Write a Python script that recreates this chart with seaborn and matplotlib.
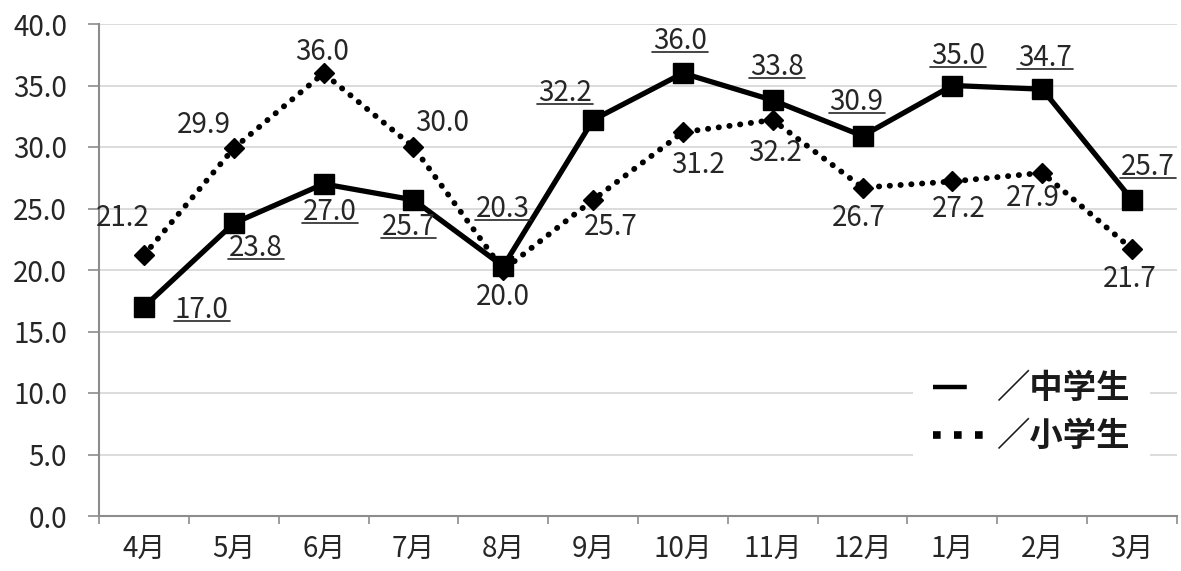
import numpy as np
import pandas as pd
import matplotlib
matplotlib.use("Agg")
import matplotlib.pyplot as plt
import seaborn as sns
from matplotlib.lines import Line2D
from matplotlib.transforms import IdentityTransform
from matplotlib.ticker import FixedLocator, FormatStrFormatter

# ---------------- data ----------------
months = ["4月", "5月", "6月", "7月", "8月", "9月", "10月", "11月", "12月", "1月", "2月", "3月"]
junior = [17.0, 23.8, 27.0, 25.7, 20.3, 32.2, 36.0, 33.8, 30.9, 35.0, 34.7, 25.7]
elementary = [21.2, 29.9, 36.0, 30.0, 20.0, 25.7, 31.2, 32.2, 26.7, 27.2, 27.9, 21.7]
series_names = ["／中学生", "／小学生"]
y_ticks = [0, 5, 10, 15, 20, 25, 30, 35, 40]

# label offsets in pixels (dx right, dy up) - layout only
junior_off = [(58, -3), (22, -25), (6, -28), (-5, -27), (0, 57), (-28, 27),
              (-3, 32), (4, 33), (-6, 34), (6, 30), (3, 31), (16, 33)]
elem_off = [(-21, 37), (-30, 23), (-2, 21), (29, 24), (0, -27), (18, -27),
            (15, -33), (2, -33), (-4, -30), (6, -28), (-9, -25), (-2, -30)]

sns.set_style("white")
plt.rcParams["font.family"] = ["Noto Sans CJK JP", "DejaVu Sans"]

W, H = 1181, 571
fig = plt.figure(figsize=(W / 100, H / 100), dpi=100)
ax = fig.add_axes([99 / W, 1 - 516 / H, (1177 - 99) / W, (516 - 24) / H])

df = pd.DataFrame({"pos": np.arange(len(months)), "month": months,
                   "junior": junior, "elementary": elementary})

sns.lineplot(data=df, x="pos", y="junior", ax=ax, color="black", lw=3.8,
             marker="s", ms=15, mec="black", mew=1, legend=False, zorder=4)
sns.lineplot(data=df, x="pos", y="elementary", ax=ax, color="black", lw=4.2,
             linestyle=(0, (0.05, 1.8)), dash_capstyle="round",
             marker="D", ms=10.5, mec="black", mew=1, legend=False, zorder=3)

ax.set_xlim(-0.5, len(months) - 0.5)
ax.set_ylim(0, 40)
ax.set_xlabel("")
ax.set_ylabel("")

ax.yaxis.set_major_locator(FixedLocator(y_ticks))
ax.yaxis.set_major_formatter(FormatStrFormatter("%.1f"))
ax.set_xticks(np.arange(len(months)))
ax.set_xticklabels(months)
ax.set_xticks(np.arange(len(months) + 1) - 0.5, minor=True)

FS = 20
tick_color = "#262626"
ax.tick_params(axis="y", which="major", length=8, width=1.2, color="#8c8c8c",
               labelsize=FS, labelcolor=tick_color, pad=15, left=True)
ax.tick_params(axis="x", which="major", length=0, labelsize=FS,
               labelcolor=tick_color, pad=13)
ax.tick_params(axis="x", which="minor", length=6, width=1.2, color="#8c8c8c",
               bottom=True)

ax.grid(axis="y", color="#d9d9d9", lw=1.3)
ax.grid(axis="x", visible=False)
ax.set_axisbelow(True)
for s in ["top", "right"]:
    ax.spines[s].set_visible(False)
for s in ["left", "bottom"]:
    ax.spines[s].set_color("#8c8c8c")
    ax.spines[s].set_linewidth(1.5)

k = 0.72
jt = []
for i, v in enumerate(junior):
    dx, dy = junior_off[i]
    t = ax.annotate(f"{v:.1f}", (i, v), xytext=(dx * k, dy * k),
                    textcoords="offset points", ha="center", va="center",
                    fontsize=FS, color=tick_color, zorder=6)
    jt.append(t)
for i, v in enumerate(elementary):
    dx, dy = elem_off[i]
    ax.annotate(f"{v:.1f}", (i, v), xytext=(dx * k, dy * k),
                textcoords="offset points", ha="center", va="center",
                fontsize=FS, color=tick_color, zorder=6)

handles = [
    Line2D([], [], color="black", lw=3.2, linestyle=(0, (7.6, 20)), dash_capstyle="butt"),
    Line2D([], [], color="black", lw=5.5, linestyle=(0, (1, 1.75)), dash_capstyle="butt"),
]
leg = ax.legend(handles, series_names, loc="center", bbox_to_anchor=(0.865, 0.21),
                frameon=True, framealpha=1, facecolor="white", edgecolor="none",
                fancybox=False, handlelength=1.66, handletextpad=0.25,
                labelspacing=0.45, borderpad=0.6,
                prop={"size": 24, "weight": "bold"})
for t in leg.get_texts():
    t.set_color("#1a1a1a")
leg.set_zorder(7)

# underline the 中学生 labels
fig.canvas.draw()
r = fig.canvas.get_renderer()
for t in jt:
    bb = t.get_window_extent(r)
    y = bb.y0 + 4
    fig.add_artist(Line2D([bb.x0 - 1, bb.x1 + 1], [y, y], transform=IdentityTransform(),
                          color=tick_color, lw=1.2, zorder=6))

fig.savefig("out.png", dpi=100)
